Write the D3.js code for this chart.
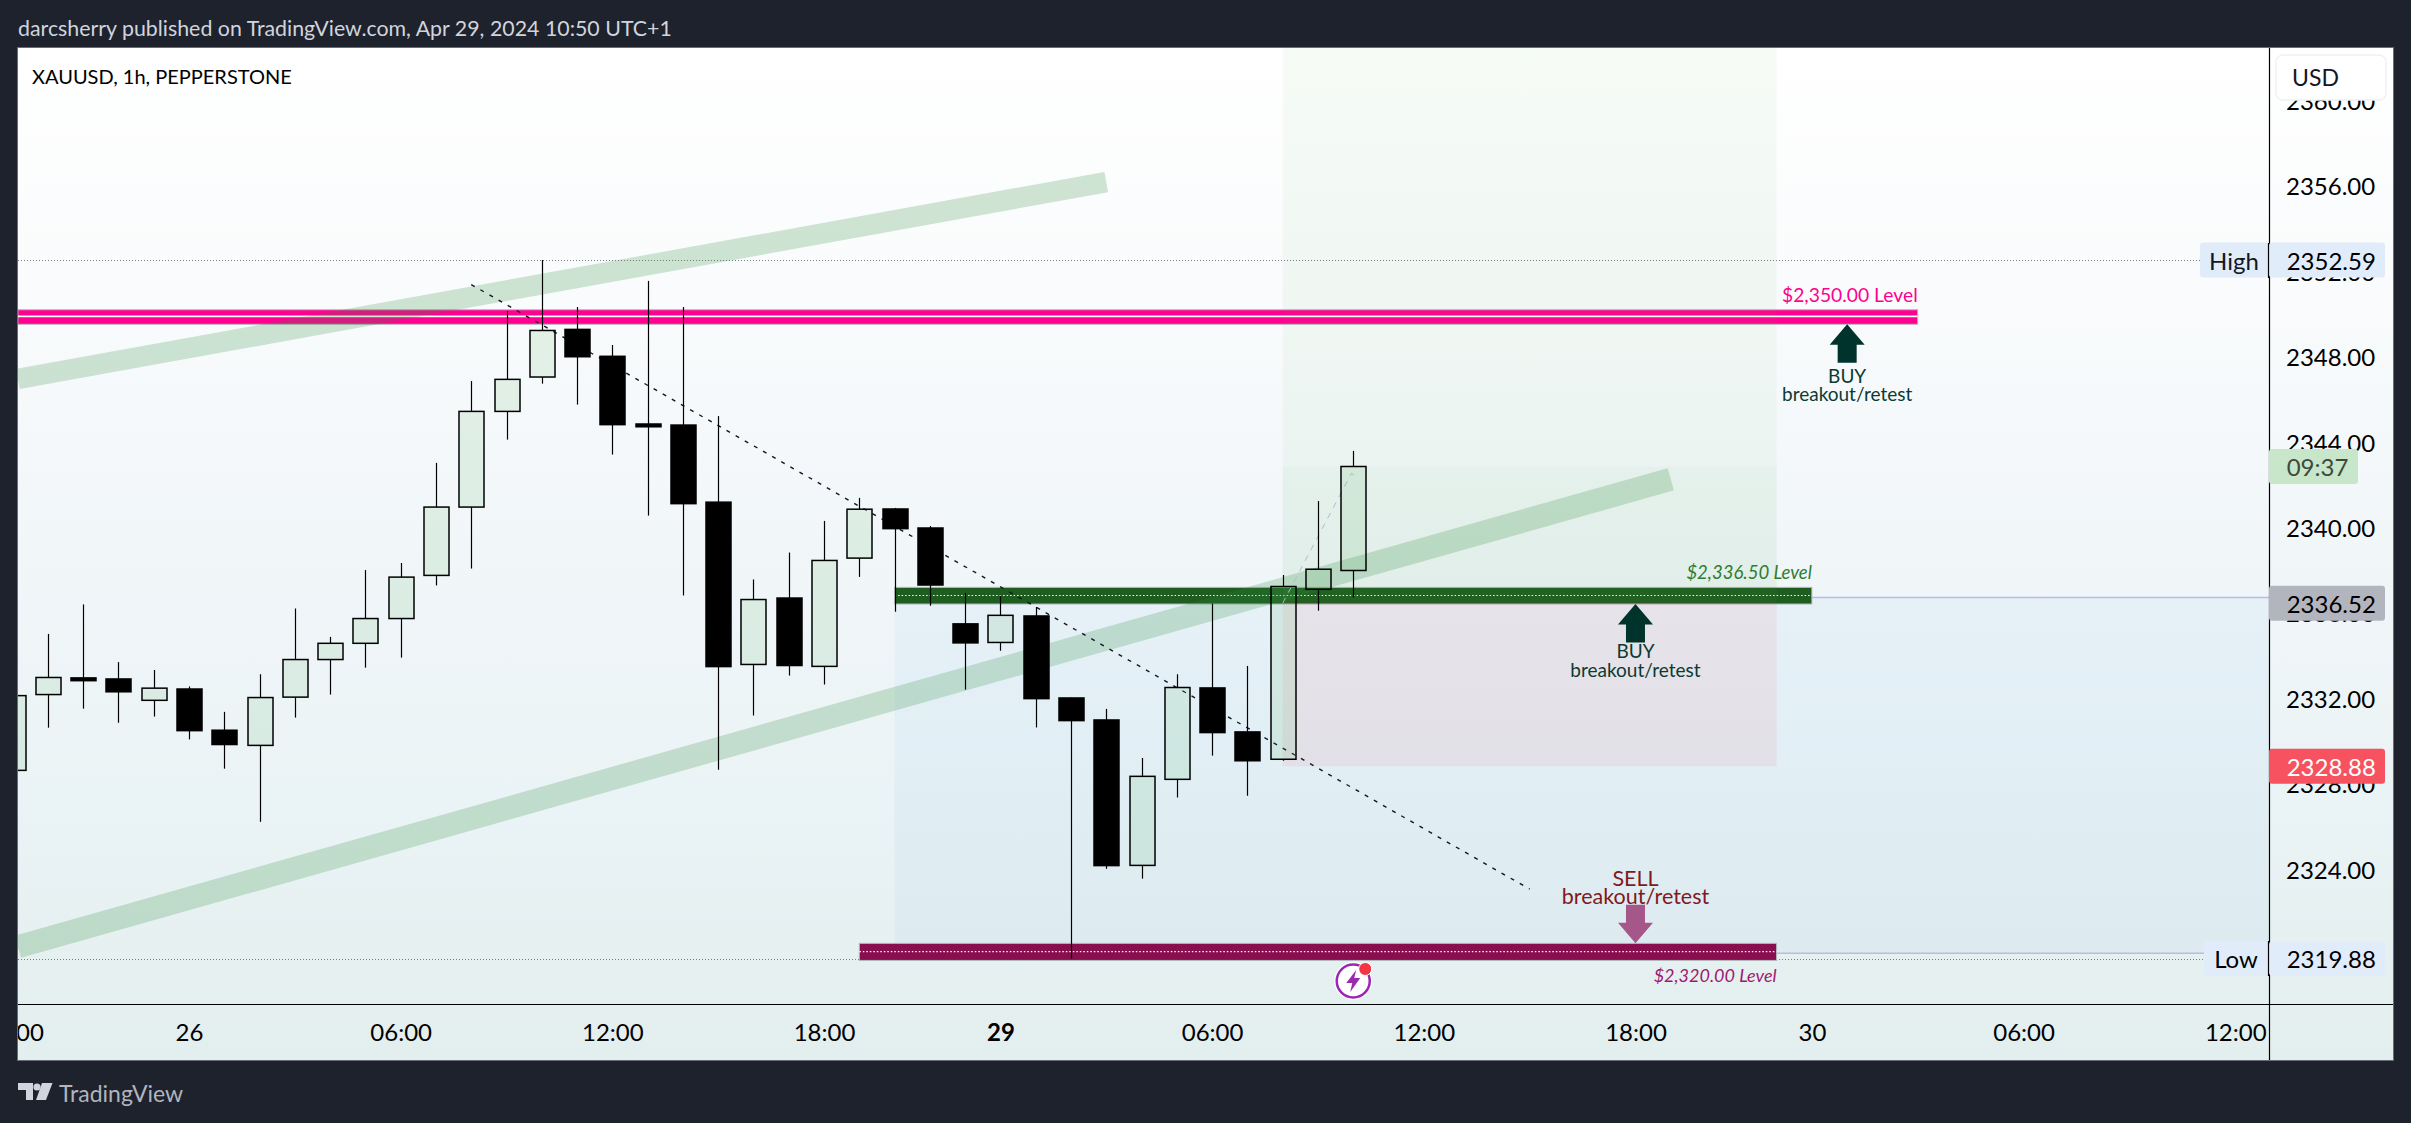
<!DOCTYPE html>
<html><head><meta charset="utf-8">
<script src="https://cdn.jsdelivr.net/npm/d3@7/dist/d3.min.js"></script>
<style>html,body{margin:0;padding:0;background:#1e222d;overflow:hidden}svg{display:block}text{font-family:Lato,"Open Sans",sans-serif}</style>
</head><body><svg id="c" width="2411" height="1123"></svg>
<script>
// ---- candles: bar index relative to 26 Apr 00:00 ----
const barIndex=[-5,-4,-3,-2,-1,0,1,2,3,4,5,6,7,8,9,10,11,12,13,14,15,16,17,18,19,20,21,22,23,24,25,26,27,28,29,30,31,32,33];
const opens =[2328.69,2332.24,2333.02,2332.97,2331.97,2332.50,2330.57,2329.86,2332.12,2333.88,2334.64,2335.80,2337.82,2341.02,2345.50,2347.11,2349.34,2348.08,2344.91,2344.86,2341.25,2333.65,2336.76,2333.56,2338.63,2340.93,2340.04,2335.55,2334.68,2335.92,2332.08,2331.05,2324.24,2328.27,2332.55,2330.49,2329.21,2337.17,2338.05];
const highs =[2332.60,2335.08,2336.46,2333.76,2333.39,2332.62,2331.43,2333.19,2336.27,2334.94,2338.07,2338.40,2343.09,2346.92,2350.20,2352.59,2350.39,2348.61,2351.61,2350.39,2345.28,2337.63,2338.89,2340.37,2341.45,2340.98,2340.13,2337.00,2336.87,2336.34,2332.10,2331.57,2329.27,2333.19,2336.50,2333.58,2337.84,2341.30,2343.65];
const lows  =[2328.30,2330.69,2331.58,2330.92,2331.21,2330.14,2328.77,2326.28,2331.16,2332.24,2333.50,2333.97,2337.35,2338.14,2344.18,2346.80,2345.82,2343.48,2340.62,2336.88,2328.72,2331.26,2333.13,2332.71,2337.75,2336.12,2336.40,2332.47,2334.29,2330.70,2319.88,2324.08,2323.62,2327.42,2329.38,2327.50,2329.14,2336.17,2336.78];
const closes=[2332.19,2333.04,2332.89,2332.37,2332.54,2330.55,2329.90,2332.10,2333.88,2334.64,2335.80,2337.74,2341.02,2345.50,2347.00,2349.29,2348.06,2344.88,2344.78,2341.18,2333.55,2336.69,2333.60,2338.52,2340.92,2340.01,2337.37,2334.66,2335.95,2332.05,2331.02,2324.23,2328.41,2332.57,2330.46,2329.14,2337.30,2338.11,2342.92];
// ---- axes ----
const priceTicks=[2360,2356,2352,2348,2344,2340,2336,2332,2328,2324,2320];
const timeTickIdx=[-5,0,6,12,18,23,29,35,41,46,52,58];
const timeTickLbl=["18:00","26","06:00","12:00","18:00","29","06:00","12:00","18:00","30","06:00","12:00"];
const boldTimeLbl=["29"];
// ---- drawings, [bar index, price] ----
const upperChannel=[[-4.85,2347.02],[26,2356.24]];
const lowerChannel=[[-4.85,2320.43],[42,2342.32]];
const trendLine=[[8,2351.44],[38,2323.13]];
const positionPath=[[31,2336.52],[32.95,2342.6],[33.1,2342.4]];
const pinkBar={i0:-4.85,i1:49,top:2350.26,bot:2349.58,mid:2349.95};
const greenBar={i0:20,i1:46,top:2337.26,bot:2336.48,mid:2336.88};
const maroonBar={i0:19,i1:45,top:2320.59,bot:2319.79,mid:2320.20};
const blueZone={i0:20,i1:58.96,top:2336.78,bot:2320.13};
const targetZone={i0:31,i1:45,top:2362.6,mid:2342.92,bot:2336.6};
const stopZone={i0:31,i1:45,top:2336.6,bot:2328.88};
const highValue=2352.59, lowValue=2319.88, lastClose=2336.52, currentClose=2328.88, timerPrice=2342.92;

const W=2411,H=1123,L=18,T=48,R=2269,B=1004,OR=2393,OB=1060;
const x=d3.scaleLinear().domain([-4.847,58.957]).range([L,R]);
const y=d3.scaleLinear().domain([2352.59,2319.88]).range([260,958.5]);
const svg=d3.select("#c");
const defs=svg.append("defs");
const g=defs.append("linearGradient").attr("id","bg").attr("x1",0).attr("x2",0).attr("y1",0).attr("y2",1);
[[0,"#ffffff"],[.25,"#f9fbfc"],[.5,"#f1f6f9"],[.75,"#eaf3f5"],[1,"#e3eeee"]].forEach(s=>g.append("stop").attr("offset",s[0]).attr("stop-color",s[1]));
defs.append("clipPath").attr("id","pane").append("rect").attr("x",L).attr("y",T).attr("width",R-L).attr("height",B-T);

svg.append("rect").attr("width",W).attr("height",H).attr("fill","#1e222d");
svg.append("rect").attr("x",L).attr("y",T).attr("width",OR-L).attr("height",OB-T).attr("fill","url(#bg)");

const pane=svg.append("g").attr("clip-path","url(#pane)");

// dotted high / low
function hDotted(price,x1){pane.append("line").attr("x1",L).attr("x2",x1).attr("y1",Math.round(y(price))+.5).attr("y2",Math.round(y(price))+.5).attr("stroke","#787b86").attr("stroke-width",1).attr("stroke-dasharray","1 2");}
hDotted(highValue,2200);hDotted(lowValue,2204);

// blue range below everything
function zone(z,top,bot,fill){pane.append("rect").attr("x",x(z.i0)).attr("width",x(z.i1)-x(z.i0)).attr("y",y(top)).attr("height",y(bot)-y(top)).attr("fill",fill);}
zone(blueZone,blueZone.top,blueZone.bot,"rgba(33,150,243,0.045)");
[blueZone.top,blueZone.bot].forEach(p=>pane.append("line").attr("x1",x(blueZone.i0)).attr("x2",x(blueZone.i1)).attr("y1",y(p)).attr("y2",y(p)).attr("stroke","#bcbade").attr("stroke-width",1.5));

// level bars
function levelBar(b,fill,dotted){
  pane.append("rect").attr("x",x(b.i0)).attr("width",x(b.i1)-x(b.i0)).attr("y",y(b.top)).attr("height",y(b.bot)-y(b.top)).attr("fill",fill).attr("stroke","#b4babf").attr("stroke-width",1);
  pane.append("line").attr("x1",x(b.i0)).attr("x2",x(b.i1)).attr("y1",y(b.mid)).attr("y2",y(b.mid)).attr("stroke","#fff").attr("stroke-width",dotted?1.2:1.6).attr("stroke-dasharray",dotted?"1.5 2":null);
}
levelBar(pinkBar,"#ff0090",false);
levelBar(greenBar,"#1e5c20",true);
levelBar(maroonBar,"#880e4f",true);

// arrows and annotation texts (under the position zones)
const ann=svg.append("g");
function arrow(i,tipPrice,dir,fill){
  const cx=x(i),t=y(tipPrice);
  const p=[[0,0],[17.5,dir*20.5],[9.5,dir*20.5],[9.5,dir*38.5],[-9.5,dir*38.5],[-9.5,dir*20.5],[-17.5,dir*20.5]];
  ann.append("path").attr("d",d3.line()(p.map(q=>[cx+q[0],t+q[1]]))+"Z").attr("fill",fill);
}
function label(px,py,txt,size,fill,anchor,style,weight){
  return ann.append("text").attr("x",px).attr("y",py).attr("text-anchor",anchor||"middle").attr("dominant-baseline","central").attr("font-size",size).attr("fill",fill).attr("font-style",style||"normal").attr("font-weight",weight||400).text(txt);
}
arrow(47,pinkBar.bot,1,"#00332b");
label(x(47),375,"BUY",19,"#0c3a33");label(x(47),393.5,"breakout/retest",19,"#0c3a33");
arrow(41,greenBar.bot,1,"#00332b");
label(x(41),650.5,"BUY",19,"#0c3a33");label(x(41),669,"breakout/retest",19,"#0c3a33");
arrow(41,maroonBar.top,-1,"#a6578a");
label(x(41),877.5,"SELL",21.5,"#801922");label(x(41),896.3,"breakout/retest",21.5,"#801922");
label(x(49),294,"$2,350.00 Level",19.3,"#ff0090","end");
label(x(46),571.5,"$2,336.50 Level",18.5,"#2e7d32","end","italic");
label(x(45),975,"$2,320.00 Level",18,"#9c1a6e","end","italic");

// position zones
zone(targetZone,targetZone.top,targetZone.bot,"rgba(76,175,80,0.05)");
zone(targetZone,targetZone.mid,targetZone.bot,"rgba(76,175,80,0.035)");
zone(stopZone,stopZone.top,stopZone.bot,"rgba(242,54,69,0.075)");

// channels & lines
const ln=d3.line().x(d=>x(d[0])).y(d=>y(d[1]));
pane.append("path").attr("d",ln(upperChannel)).attr("stroke","rgba(46,139,60,0.22)").attr("stroke-width",20.5).attr("fill","none");
pane.append("path").attr("d",ln(lowerChannel)).attr("stroke","rgba(46,139,60,0.22)").attr("stroke-width",23).attr("fill","none");
pane.append("path").attr("d",ln(trendLine)).attr("stroke","#131722").attr("stroke-width",1.4).attr("stroke-dasharray","4 6.5").attr("fill","none");
pane.append("path").attr("d",ln(positionPath)).attr("stroke","#b0bec5").attr("stroke-width",1).attr("stroke-dasharray","6 6").attr("fill","none");

// candles
const candles=barIndex.map((b,k)=>({b,o:opens[k],h:highs[k],l:lows[k],c:closes[k]}));
const bodyW=25;
const cg=pane.append("g").selectAll("g").data(candles).join("g");
cg.each(function(d){
  const s=d3.select(this),cx=Math.round(x(d.b))+.5;
  [[d.h,Math.max(d.o,d.c)],[Math.min(d.o,d.c),d.l]].forEach(w=>s.append("line").attr("x1",cx).attr("x2",cx).attr("y1",y(w[0])).attr("y2",y(w[1])).attr("stroke","#000").attr("stroke-width",1.2));
});
cg.append("rect").attr("x",d=>Math.round(x(d.b))+.5-bodyW/2).attr("width",bodyW)
  .attr("y",d=>y(Math.max(d.o,d.c))).attr("height",d=>Math.max(2,Math.abs(y(d.o)-y(d.c))))
  .attr("fill",d=>d.c>=d.o?"rgba(76,175,80,0.12)":"#000").attr("stroke","#000").attr("stroke-width",1.5);

// earnings icon
const ic=svg.append("g").attr("transform",`translate(${x(33)},981)`);
ic.append("circle").attr("r",19).attr("fill","#fff");
ic.append("circle").attr("r",16.5).attr("fill","none").attr("stroke","#9c27b0").attr("stroke-width",2.5);
ic.append("path").attr("d","M3,-11 L-7,2 L-1,2 L-3,11 L7,-3 L1,-3 Z").attr("fill","#9c27b0");
ic.append("circle").attr("cx",12).attr("cy",-12).attr("r",6.5).attr("fill","#f23645").attr("stroke","#fff").attr("stroke-width",1);

// panes lines
svg.append("line").attr("x1",R+.5).attr("x2",R+.5).attr("y1",T).attr("y2",OB).attr("stroke","#000").attr("stroke-width",1.2);
svg.append("line").attr("x1",L).attr("x2",OR).attr("y1",B+.5).attr("y2",B+.5).attr("stroke","#000").attr("stroke-width",1.2);
svg.append("rect").attr("x",L-.5).attr("y",T-.5).attr("width",OR-L+1).attr("height",OB-T+1).attr("fill","none").attr("stroke","#6a6d78").attr("stroke-width",1);

// y axis
const AXF=24;
const yAxis=d3.axisRight(y).tickValues(priceTicks).tickFormat(d3.format(".2f")).tickSize(0).tickPadding(17);
const yg=svg.append("g").attr("transform",`translate(${R},0)`).call(yAxis);
yg.select(".domain").remove();
yg.selectAll("text").attr("font-size",AXF).attr("fill","#000").style("font-family","Lato");

// x axis
const xAxis=d3.axisBottom(x).tickValues(timeTickIdx).tickFormat((d,k)=>timeTickLbl[k]).tickSize(0).tickPadding(0);
defs.append("clipPath").attr("id","timeclip2").append("rect").attr("x",L).attr("y",0).attr("width",OR-L).attr("height",OB-B);
const xg=svg.append("g").attr("transform",`translate(0,${B})`).attr("clip-path","url(#timeclip2)").call(xAxis);
xg.select(".domain").remove();
xg.selectAll("text").attr("y",27).attr("dy",null).attr("dominant-baseline","central").attr("font-size",AXF).attr("fill","#000").style("font-family","Lato")
  .attr("font-weight",(d,k)=>boldTimeLbl.includes(timeTickLbl[k])?700:400);

// USD box
svg.append("rect").attr("x",2276).attr("y",55).attr("width",110).attr("height",45).attr("rx",7).attr("fill","#fff").attr("stroke","#eff1f7").attr("stroke-width",1.5);
svg.append("text").attr("x",2292).attr("y",77).attr("dominant-baseline","central").attr("font-size",23).attr("fill","#131722").text("USD");

// price tags
function tag(x0,x1,cy,h,fill,txt,color,tx,anchor){
  svg.append("rect").attr("x",x0).attr("y",cy-h/2).attr("width",x1-x0).attr("height",h).attr("rx",3).attr("fill",fill);
  svg.append("text").attr("x",tx).attr("y",cy).attr("dominant-baseline","central").attr("text-anchor",anchor||"start").attr("font-size",AXF).attr("fill",color).text(txt);
}
const fmt=d3.format(".2f");
tag(2200,2268,y(highValue),35,"#e1ecfb","High","#131722",2234,"middle");
tag(2269,2385,y(highValue),35,"#e1ecfb",fmt(highValue),"#000",2286.7);
tag(2269,2358,y(timerPrice),35,"#c8e6c9","09:37","#3c4a3e",2286.7);
tag(2269,2385,y(lastClose),35,"#b2b5be",fmt(lastClose),"#000",2286.7);
tag(2269,2385,y(currentClose),35,"#f7525f",fmt(currentClose),"#fff",2286.7);
tag(2204,2268,y(lowValue),34,"#e1ecfb","Low","#000",2236,"middle");
tag(2269,2385,y(lowValue),34,"#e1ecfb",fmt(lowValue),"#000",2286.7);
[[243,278],[941,976]].forEach(s=>svg.append("line").attr("x1",2268.5).attr("x2",2268.5).attr("y1",s[0]).attr("y2",s[1]).attr("stroke","#000").attr("stroke-width",1.2));

// header / legend / footer
svg.append("text").attr("x",18).attr("y",28).attr("dominant-baseline","central").attr("font-size",21.35).attr("fill","#d1d4dc").text("darcsherry published on TradingView.com, Apr 29, 2024 10:50 UTC+1");
svg.append("text").attr("x",32).attr("y",75.5).attr("dominant-baseline","central").attr("font-size",20).attr("fill","#000").text("XAUUSD, 1h, PEPPERSTONE");
const lg=svg.append("g").attr("fill","#d1d4dc");
lg.append("path").attr("d","M18,1083 H33 V1100 H26 V1090 H18 Z");
lg.append("circle").attr("cx",37).attr("cy",1087).attr("r",3.6);
lg.append("path").attr("d","M42,1083 H52.5 L46,1100 H36 Z");
svg.append("text").attr("x",59).attr("y",1093).attr("dominant-baseline","central").attr("font-size",23).attr("fill","#b2b5be").text("TradingView");
</script></body></html>
